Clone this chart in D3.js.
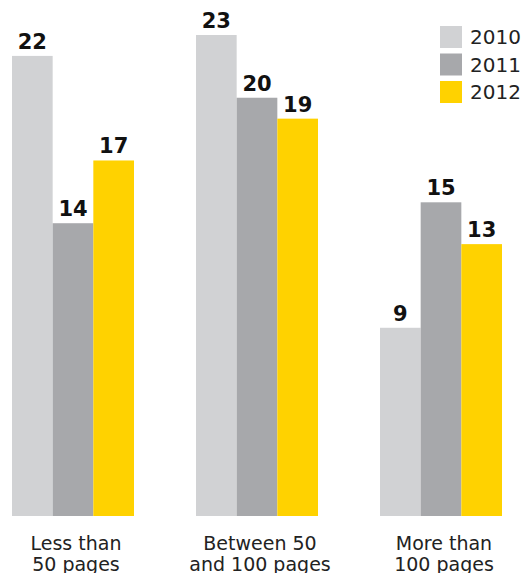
<!DOCTYPE html>
<html>
<head>
<meta charset="utf-8">
<script src="https://cdn.jsdelivr.net/npm/d3@7"></script>
<style>
  body { margin: 0; background: #fff; }
  svg { display: block; }
</style>
</head>
<body>
<div id="chart"></div>
<script>
var width = 523;
var height = 573;

var categories = [["Less than", "50 pages"], ["Between 50", "and 100 pages"], ["More than", "100 pages"]];
var years = ["2010", "2011", "2012"];
var values2010 = [22, 23, 9];
var values2011 = [14, 20, 15];
var values2012 = [17, 19, 13];
var colors = ["#d1d2d4", "#a7a8ab", "#ffd200"];

var series = [values2010, values2011, values2012];

var svg = d3.select("#chart")
    .append("svg")
    .attr("width", width)
    .attr("height", height);

// scales
var xScale = d3.scaleBand().domain(d3.range(categories.length)).range([12, 502]).paddingInner(0.337).paddingOuter(0);
var xInner = d3.scaleBand().domain(years).range([0, xScale.bandwidth()]);
var yScale = d3.scaleLinear().domain([0, 23]).range([516, 35]);

var groups = svg.selectAll("g.group")
    .data(categories)
    .enter()
    .append("g")
    .attr("class", "group")
    .attr("transform", function(d, i) { return "translate(" + xScale(i) + ",0)"; });

groups.each(function(cat, i) {
    var g = d3.select(this);
    years.forEach(function(yr, j) {
        var v = series[j][i];
        g.append("rect")
            .attr("x", xInner(yr))
            .attr("y", yScale(v))
            .attr("width", xInner.bandwidth())
            .attr("height", yScale(0) - yScale(v))
            .attr("fill", colors[j]);
        g.append("text")
            .attr("x", xInner(yr) + xInner.bandwidth() / 2)
            .attr("y", yScale(v) - 7)
            .attr("text-anchor", "middle")
            .style("font-family", "DejaVu Sans")
            .style("font-weight", "bold")
            .style("font-size", "21px")
            .attr("fill", "#111")
            .text(v);
    });
    var lbl = g.append("text")
        .attr("text-anchor", "middle")
        .style("font-family", "DejaVu Sans")
        .style("font-size", "19px")
        .attr("fill", "#222");
    lbl.selectAll("tspan")
        .data(cat)
        .enter()
        .append("tspan")
        .attr("x", xScale.bandwidth() / 2 + 3)
        .attr("y", function(d, k) { return 550 + k * 21; })
        .text(function(d) { return d; });
});

// legend
var legend = svg.append("g").attr("transform", "translate(440,26)");
years.forEach(function(yr, j) {
    legend.append("rect")
        .attr("x", 0)
        .attr("y", j * 27.5)
        .attr("width", 22)
        .attr("height", 22)
        .attr("fill", colors[j]);
    legend.append("text")
        .attr("x", 30)
        .attr("y", j * 27.5 + 18)
        .style("font-family", "DejaVu Sans")
        .style("font-size", "20px")
        .attr("fill", "#222")
        .text(yr);
});
</script>
</body>
</html>
